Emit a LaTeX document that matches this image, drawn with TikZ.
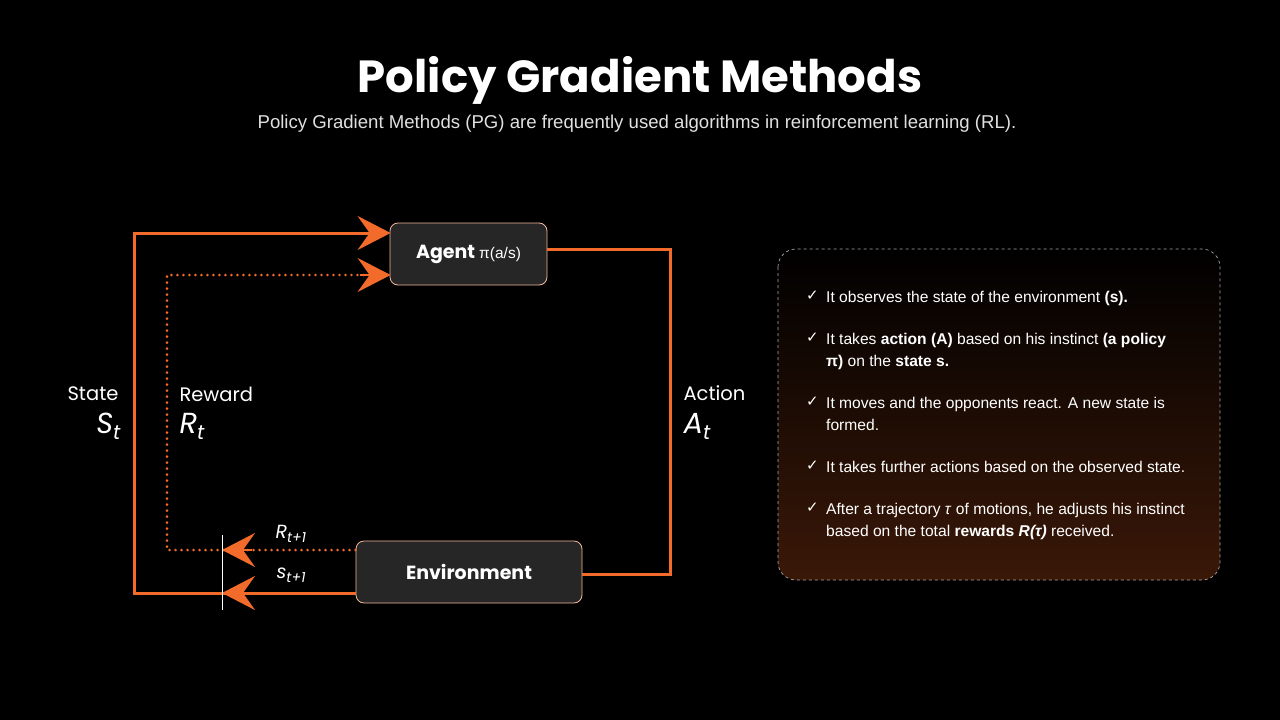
\documentclass[tikz,border=0pt]{standalone}
\usepackage{fontspec}
\setmainfont{Liberation Sans}
\newfontfamily\pop{Poppins}
\newfontfamily\djv{DejaVu Sans}
\usetikzlibrary{arrows.meta}
\definecolor{org}{HTML}{F26B2A}
\definecolor{edge}{HTML}{F4B89A}
\definecolor{boxf}{HTML}{262626}
\definecolor{pbot}{HTML}{3A1808}
\tikzset{
  box/.style={draw=edge,fill=boxf,rounded corners=8pt,line width=0.8pt,text=white,font=\pop\bfseries\fontsize{19}{22}\selectfont},
  flow/.style={draw=org,line width=3pt},
  dflow/.style={draw=org,line width=2.8pt,line cap=round,dash pattern=on 0pt off 6pt},
  tip/.style={-{Stealth[length=33pt,width=34pt,inset=12pt]}},
  lab/.style={text=white,font=\pop\fontsize{19.5}{22}\selectfont},
  sym/.style={text=white,font=\pop\itshape\fontsize{29}{30}\selectfont},
  bul/.style={text=white,anchor=north west,align=left,font=\fontsize{15.6}{22}\selectfont,inner sep=0pt},
  chk/.style={text=white,anchor=north west,font=\djv\fontsize{15}{22}\selectfont,inner sep=0pt}
}
\newcommand{\sbs}[1]{\raisebox{-6pt}{\fontsize{20}{20}\selectfont #1}}
\newcommand{\ssb}[1]{\raisebox{-4pt}{\fontsize{14}{14}\selectfont #1}}
\begin{document}
\begin{tikzpicture}[x=1pt,y=-1pt]
\fill[black] (0,0) rectangle (1280,720);
\useasboundingbox (0,0) rectangle (1280,720);
\node[text=white,font=\pop\bfseries\fontsize{45}{50}\selectfont] (title) at (640,80) {Policy Gradient Methods};
\node[text=white!88!black,font=\fontsize{18.6}{20}\selectfont] (sub) at (637,124) {Policy Gradient Methods (PG) are frequently used algorithms in reinforcement learning (RL).};
% boxes
\node[box,minimum width=157pt,minimum height=62pt] (agent) at (468.5,254) {Agent {\mdseries\fontspec{Liberation Sans}\fontsize{15.5}{18}\selectfont π(a/s)}};
\node[box,minimum width=226pt,minimum height=62pt] (env) at (469,572) {Environment};
% corners
\coordinate (c1) at (134,233); \coordinate (c2) at (134,593);
\coordinate (d1) at (167,275); \coordinate (d2) at (167,550);
\coordinate (a1) at (670,249); \coordinate (a2) at (670,574);
\coordinate (m1) at (222,593); \coordinate (m2) at (222,550);
% state loop
\draw[flow] (env.west |- c2) -- (c2) -- (c1) -- ([xshift=-4pt]agent.west |- c1);
\draw[flow,tip] (c1) -- ([xshift=1pt]agent.west |- c1);
\draw[flow,tip] (env.west |- m1) -- (m1);
% reward loop
\draw[dflow] (env.west |- m2) -- (d2) -- (d1) -- (agent.west |- d1);
\draw[org,line width=2.6pt,tip] ([xshift=-30pt]agent.west |- d1) -- ([xshift=1pt]agent.west |- d1);
\draw[org,line width=2.6pt,tip] ([xshift=30pt]m2) -- (m2);
% action
\draw[flow] (agent.east |- a1) -- (a1) -- (a2) -- (env.east |- a2);
% white tick
\coordinate (w1) at (222,535); \coordinate (w2) at (222,610);
\draw[white,line width=0.8pt] (w1) -- (w2);
% labels
\node[lab,anchor=center] (lstate) at (93,394) {State};
\node[sym,anchor=east] (lS) at (124,426) {S\sbs{t}};
\node[lab,anchor=west] (lrew) at (176,394) {Reward};
\node[sym,anchor=west] (lR) at (176,426) {R\sbs{t}};
\node[lab,anchor=west] (lact) at (680,393) {Action};
\node[sym,anchor=west] (lA) at (680,426) {A\sbs{t}};
\node[text=white,font=\pop\itshape\fontsize{19}{20}\selectfont,anchor=west] (lr1) at (272,534) {R\ssb{t+1}};
\node[text=white,font=\pop\itshape\fontsize{19}{20}\selectfont,anchor=west] (ls1) at (273,575) {s\ssb{t+1}};
% panel
\shade[top color=black,bottom color=pbot,rounded corners=18pt] (778,249) rectangle (1220,580);
\draw[gray!70,dashed,rounded corners=18pt,line width=0.7pt] (778,249) rectangle (1220,580);
\foreach \y in {291,333,397,461,503} \node[chk] at (806,\y) {✓};
\node[bul] (b1) at (826,291) {It observes the state of the environment \textbf{(s).}};
\node[bul] (b2) at (826,333) {It takes \textbf{action (A)} based on his instinct \textbf{(a policy}\\\textbf{π)} on the \textbf{state s.}};
\node[bul] (b3) at (826,397) {It moves and the opponents react. A new state is\\formed.};
\node[bul] (b4) at (826,461) {It takes further actions based on the observed state.};
\node[bul] (b5) at (826,503) {After a trajectory \textit{τ} of motions, he adjusts his instinct\\based on the total \textbf{rewards \textit{R(τ)}} received.};
\end{tikzpicture}
\end{document}
